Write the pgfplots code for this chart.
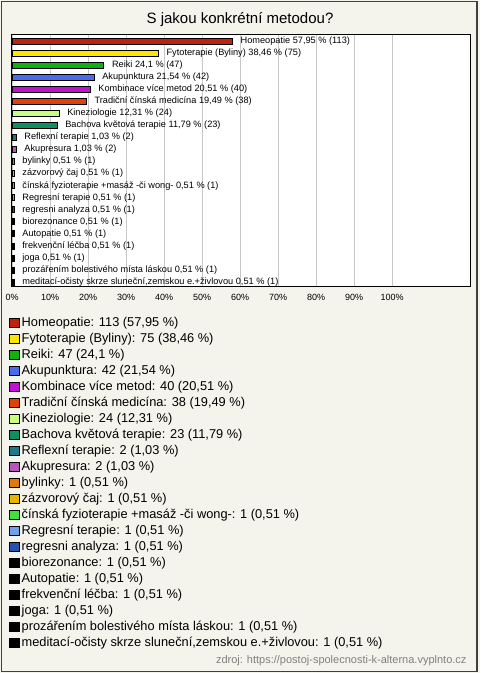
\documentclass[border=0pt]{standalone}
\usepackage{fontspec}
\setmainfont{Liberation Sans}
\usepackage{pgfplots}
\pgfplotsset{compat=1.18}
\definecolor{bg}{HTML}{F4F3EC}
\definecolor{c1}{HTML}{C0200F}
\definecolor{c2}{HTML}{FFE400}
\definecolor{c3}{HTML}{10B010}
\definecolor{c4}{HTML}{4A6CE8}
\definecolor{c5}{HTML}{C010D0}
\definecolor{c6}{HTML}{E0400A}
\definecolor{c7}{HTML}{C8FF80}
\definecolor{c8}{HTML}{109060}
\definecolor{c9}{HTML}{207888}
\definecolor{c10}{HTML}{B855B8}
\definecolor{c11}{HTML}{E07810}
\definecolor{c12}{HTML}{E8B400}
\definecolor{c13}{HTML}{40E040}
\definecolor{c14}{HTML}{70A0E8}
\definecolor{c15}{HTML}{2850B0}
\definecolor{c16}{HTML}{000000}
\begin{document}
\begin{tikzpicture}[x=1pt,y=1pt]
\useasboundingbox (0,0) rectangle (480,673);
\fill[bg] (0,0) rectangle (480,673);
\draw[black!75, line width=1.2pt] (1.5,1.5) rectangle (477,671.5);
\node[font=\fontsize{15}{17}\selectfont] at (240,653) {S jakou konkrétní metodou?};
\node[anchor=east, text=black!50, font=\fontsize{11}{13}\selectfont] at (470,12) {zdroj: https://postoj-spolecnosti-k-alterna.vyplnto.cz};
\begin{axis}[
  at={(11pt,387pt)}, anchor=south west,
  width=459pt, height=252pt, scale only axis,
  axis background/.style={fill=white},
  axis line style={black, line width=0.8pt},
  xmin=-0.3, xmax=120.5,
  ymin=-0.58, ymax=20.33, y dir=reverse,
  ytick=\empty,
  xtick={0,10,...,100},
  xticklabel={\pgfmathprintnumber{\tick}\%},
  major tick length=0pt,
  xmajorgrids, grid style={black!22, line width=0.6pt},
  /pgf/number format/assume math mode=true,
  x tick label style={font=\fontsize{9}{10}\selectfont, inner sep=0pt, yshift=-8pt},
  every axis plot/.append style={xbar, bar shift=0pt, bar width=6pt, draw=black, line width=0.7pt,
    legend image code/.code={\draw[##1, line width=0.5pt] (0pt,-4pt) rectangle (9.5pt,5.5pt);}},
  every node near coord/.append style={anchor=west, inner sep=0pt, xshift=8pt, text=black, font=\fontsize{9.2}{10}\selectfont},
  legend style={at={(axis description cs:0,0)}, anchor=north west, xshift=-2pt, yshift=-29.5pt,
    draw=none, fill=none, inner sep=0pt, row sep=0pt, column sep=0pt,
    font=\fontsize{12.8}{14}\selectfont,
    nodes={inner xsep=2.5pt, inner ysep=0pt, text height=11pt, text depth=5pt}},
  legend cell align=left,
]
\addplot[fill=c1, nodes near coords={Homeopatie 57,95~\% (113)}] coordinates {(57.95,0)};
\addlegendentry{Homeopatie: 113 (57,95~\%)}
\addplot[fill=c2, nodes near coords={Fytoterapie (Byliny) 38,46~\% (75)}] coordinates {(38.46,1)};
\addlegendentry{Fytoterapie (Byliny): 75 (38,46~\%)}
\addplot[fill=c3, nodes near coords={Reiki 24,1~\% (47)}] coordinates {(24.1,2)};
\addlegendentry{Reiki: 47 (24,1~\%)}
\addplot[fill=c4, nodes near coords={Akupunktura 21,54~\% (42)}] coordinates {(21.54,3)};
\addlegendentry{Akupunktura: 42 (21,54~\%)}
\addplot[fill=c5, nodes near coords={Kombinace více metod 20,51~\% (40)}] coordinates {(20.51,4)};
\addlegendentry{Kombinace více metod: 40 (20,51~\%)}
\addplot[fill=c6, nodes near coords={Tradiční čínská medicína 19,49~\% (38)}] coordinates {(19.49,5)};
\addlegendentry{Tradiční čínská medicína: 38 (19,49~\%)}
\addplot[fill=c7, nodes near coords={Kineziologie 12,31~\% (24)}] coordinates {(12.31,6)};
\addlegendentry{Kineziologie: 24 (12,31~\%)}
\addplot[fill=c8, nodes near coords={Bachova květová terapie 11,79~\% (23)}] coordinates {(11.79,7)};
\addlegendentry{Bachova květová terapie: 23 (11,79~\%)}
\addplot[fill=c9, nodes near coords={Reflexní terapie 1,03~\% (2)}] coordinates {(1.03,8)};
\addlegendentry{Reflexní terapie: 2 (1,03~\%)}
\addplot[fill=c10, nodes near coords={Akupresura 1,03~\% (2)}] coordinates {(1.03,9)};
\addlegendentry{Akupresura: 2 (1,03~\%)}
\addplot[fill=c11, nodes near coords={bylinky 0,51~\% (1)}] coordinates {(0.51,10)};
\addlegendentry{bylinky: 1 (0,51~\%)}
\addplot[fill=c12, nodes near coords={zázvorový čaj 0,51~\% (1)}] coordinates {(0.51,11)};
\addlegendentry{zázvorový čaj: 1 (0,51~\%)}
\addplot[fill=c13, nodes near coords={čínská fyzioterapie +masáž -či wong- 0,51~\% (1)}] coordinates {(0.51,12)};
\addlegendentry{čínská fyzioterapie +masáž -či wong-: 1 (0,51~\%)}
\addplot[fill=c14, nodes near coords={Regresní terapie 0,51~\% (1)}] coordinates {(0.51,13)};
\addlegendentry{Regresní terapie: 1 (0,51~\%)}
\addplot[fill=c15, nodes near coords={regresni analyza 0,51~\% (1)}] coordinates {(0.51,14)};
\addlegendentry{regresni analyza: 1 (0,51~\%)}
\addplot[fill=c16, nodes near coords={biorezonance 0,51~\% (1)}] coordinates {(0.51,15)};
\addlegendentry{biorezonance: 1 (0,51~\%)}
\addplot[fill=c16, nodes near coords={Autopatie 0,51~\% (1)}] coordinates {(0.51,16)};
\addlegendentry{Autopatie: 1 (0,51~\%)}
\addplot[fill=c16, nodes near coords={frekvenční léčba 0,51~\% (1)}] coordinates {(0.51,17)};
\addlegendentry{frekvenční léčba: 1 (0,51~\%)}
\addplot[fill=c16, nodes near coords={joga 0,51~\% (1)}] coordinates {(0.51,18)};
\addlegendentry{joga: 1 (0,51~\%)}
\addplot[fill=c16, nodes near coords={prozářením bolestivého místa láskou 0,51~\% (1)}] coordinates {(0.51,19)};
\addlegendentry{prozářením bolestivého místa láskou: 1 (0,51~\%)}
\addplot[fill=c16, nodes near coords={meditací-očisty skrze sluneční,zemskou e.+živlovou 0,51~\% (1)}] coordinates {(0.51,20)};
\addlegendentry{meditací-očisty skrze sluneční,zemskou e.+živlovou: 1 (0,51~\%)}
\end{axis}
\end{tikzpicture}
\end{document}
